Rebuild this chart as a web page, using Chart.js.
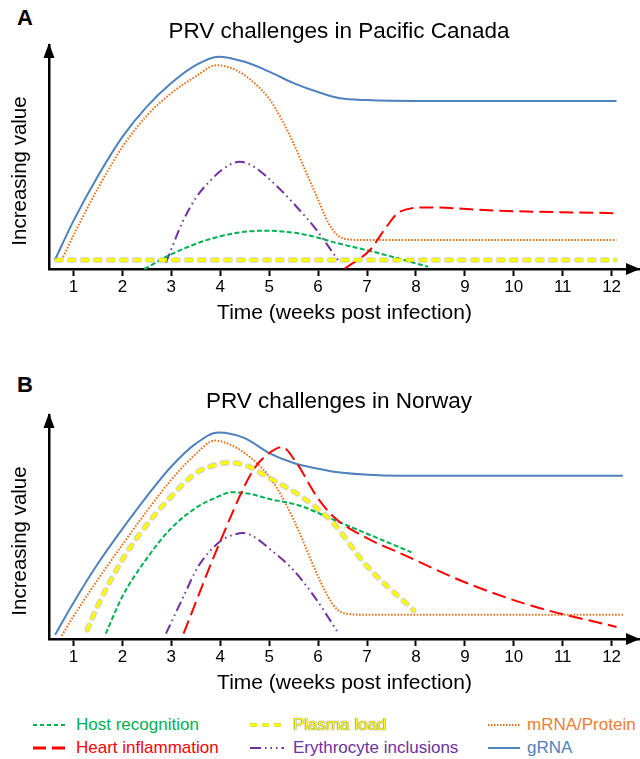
<!DOCTYPE html>
<html>
<head>
<meta charset="utf-8">
<script src="https://cdn.jsdelivr.net/npm/chart.js@4.4.1/dist/chart.umd.min.js"></script>
<style>
html,body{margin:0;padding:0;background:#fff;}
body{width:640px;height:759px;position:relative;overflow:hidden;font-family:"Liberation Sans",Arial,sans-serif;}
.panel{position:absolute;left:0;width:640px;height:340px;}
.plabel{position:absolute;left:17px;font:bold 22px "Liberation Sans",Arial,sans-serif;color:#000;line-height:22px;}
.leg{position:absolute;height:20px;line-height:20px;font-size:17px;white-space:nowrap;}
.leg svg{position:absolute;top:5px;}
</style>
</head>
<body>
<div class="plabel" style="top:7px">A</div>
<div class="panel" style="top:0"><canvas id="cA" width="640" height="340"></canvas></div>
<div class="plabel" style="top:374px">B</div>
<div class="panel" style="top:370px"><canvas id="cB" width="640" height="340"></canvas></div>
<div id="legend"></div>
<script>
// ---------- data ----------
const weekTicks = [1,2,3,4,5,6,7,8,9,10,11,12];
const seriesNames = ['Host recognition','Heart inflammation','Plasma load','Erythrocyte inclusions','mRNA/Protein','gRNA'];
const panelTitles = ['PRV challenges in Pacific Canada','PRV challenges in Norway'];
const xTitle = 'Time (weeks post infection)';
const yTitle = 'Increasing value';

// Panel A: Pacific Canada
const canadaGrnaX = [0.62,1,1.5,2,2.5,3,3.5,3.96,4.5,5,5.5,6,6.45,7,8,10,12.1];
const canadaGrnaY = [4,21.5,41.5,59,72.5,83,91,94.8,92.5,88.1,83,79,76.2,75.4,75,75,75];
const canadaMrnaX = [0.76,1,1.5,2,2.5,3,3.5,3.93,4.25,4.5,4.75,5,5.25,5.5,5.75,6,6.2,6.4,6.6,7,8,12.1];
const canadaMrnaY = [4,15,36,54.5,68.5,78.5,86,91,89.5,86.5,82,76,67,56,43.5,31,21,15,13.3,12.9,12.9,12.9];
const canadaEryX = [2.89,3.25,3.52,3.8,4.03,4.4,4.7,4.95,5.25,5.56,5.97,6.31,6.41];
const canadaEryY = [2.8,21.9,32.3,39.5,44.2,47.9,45.5,41.2,35,27.8,17.4,7,4];
const canadaHostX = [2.45,3.04,3.72,4.3,4.85,5.3,5.77,6.4,7.13,8.25];
const canadaHostY = [0,7,12.9,16,17.1,16.7,15.2,11.5,7.7,1];
const canadaHeartX = [6.55,7.06,7.4,7.67,8.22,9.72,12.13];
const canadaHeartY = [0.3,8.5,18.9,25.6,27.5,26,24.9];
const canadaPlasmaX = [0.62,12.1];
const canadaPlasmaY = [4,4];

// Panel B: Norway
const norwayGrnaX = [0.625,1,1.5,2,2.5,3,3.5,3.96,4.5,5,5.5,6,6.45,7.67,12.23];
const norwayGrnaY = [1.9,16.2,33.7,49.2,63.7,77,87.2,92.2,89.7,83,78.6,76,74.3,72.9,72.9];
const norwayMrnaX = [0.76,1,1.5,2,2.5,3,3.5,3.89,4.25,4.5,4.75,5,5.25,5.5,6,6.2,6.4,6.65,7,12.23];
const norwayMrnaY = [1.5,10.1,26.6,42.1,57.1,71.1,82.6,88.6,86.3,83,78.5,72.6,64,53.3,28,19,13,11.1,10.8,10.8];
const norwayPlasmaX = [1.27,1.5,2,2.5,3,3.5,3.8,4.17,4.6,5,5.63,6,6.31,6.99,7.98];
const norwayPlasmaY = [3.4,15,35.4,51,63.7,74,77,78.8,76.8,71.9,64,58,51.8,32.8,12.3];
const norwayHostX = [1.66,2,2.5,3,3.5,3.9,4.23,4.6,5,5.63,6.31,7.91];
const norwayHostY = [2.4,19,36,49.5,58.5,63,65.5,64.8,62.5,59.5,53.3,38.7];
const norwayHeartX = [3.25,4,4.68,5,5.26,5.56,5.97,6.31,7,7.67,9.04,10.4,12.1];
const norwayHeartY = [2.4,43.6,75.6,83,85.7,78.6,63.7,54.7,45,38.4,25,14.6,5.4];
const norwayEryX = [2.89,3.25,3.55,4,4.2,4.47,4.7,4.95,5.49,5.97,6.39];
const norwayEryY = [2.4,19,32.4,43.6,46,47.3,45.5,41.3,30.9,17.5,3.4];

// ---------- styles ----------
const FAMILY = "'Liberation Sans', Arial, sans-serif";
const seriesStyle = {
  'Host recognition':       {color:'#00b050', width:2,   dash:[5,2.5], order:3},
  'Heart inflammation':     {color:'#ff0000', width:2,   dash:[14,6],  order:2},
  'Plasma load':            {color:'#ffff00', width:3.5, dash:[8,5],   order:1},
  'Erythrocyte inclusions': {color:'#7030a0', width:2,   dash:[10,4,1.5,4,1.5,4], order:4},
  'mRNA/Protein':           {color:'#e9701a', width:2,   dash:[1.6,1.6], order:5},
  'gRNA':                   {color:'#4f81bd', width:2,   dash:[], order:6}
};
const legendTextColor = {
  'Host recognition':'#00b050','Heart inflammation':'#ff0000','Plasma load':'#ffff00',
  'Erythrocyte inclusions':'#7030a0','mRNA/Protein':'#ed7d31','gRNA':'#4f81bd'
};

function pts(xs, ys){ return xs.map((x,i)=>({x:x, y:ys[i]})); }
function ds(name, xs, ys){
  const s = seriesStyle[name];
  return {label:name, data:pts(xs,ys), borderColor:s.color, borderWidth:s.width,
    borderDash:s.dash, pointRadius:0, fill:false, cubicInterpolationMode:'monotone',
    order:s.order, clip:false};
}

const decorPlugin = {
  id:'decor',
  beforeDatasetDraw(chart, args){
    const d = chart.data.datasets[args.index];
    if (d.label === 'Plasma load'){
      chart.ctx.save();
      chart.ctx.shadowColor = 'rgba(90,90,90,0.9)';
      chart.ctx.shadowBlur = 2;
    }
  },
  afterDatasetDraw(chart, args){
    const d = chart.data.datasets[args.index];
    if (d.label === 'Plasma load') chart.ctx.restore();
  },
  afterDraw(chart, args, opts){
    const ctx = chart.ctx, a = chart.chartArea;
    ctx.save();
    ctx.fillStyle = '#000';
    // axis arrow heads
    ctx.beginPath();
    ctx.moveTo(a.right, a.bottom);
    ctx.lineTo(a.right-14, a.bottom-6);
    ctx.lineTo(a.right-14, a.bottom+6);
    ctx.closePath(); ctx.fill();
    ctx.beginPath();
    ctx.moveTo(a.left, a.top-2);
    ctx.lineTo(a.left-5.5, a.top+13);
    ctx.lineTo(a.left+5.5, a.top+13);
    ctx.closePath(); ctx.fill();
    // panel title
    ctx.textAlign = 'center';
    ctx.textBaseline = 'middle';
    ctx.font = "22.5px " + FAMILY;
    ctx.fillText(opts.title, 339, 32);
    // y axis title
    ctx.translate(20, 171);
    ctx.rotate(-Math.PI/2);
    ctx.font = "20.5px " + FAMILY;
    ctx.fillText(yTitle, 0, 0);
    ctx.restore();
  }
};

function makeChart(id, title, datasets){
  return new Chart(document.getElementById(id), {
    type:'line',
    data:{datasets:datasets},
    plugins:[decorPlugin],
    options:{
      responsive:false, animation:false, devicePixelRatio:1,
      layout:{padding:{top:45, left:0, right:0, bottom:0}},
      plugins:{
        legend:{display:false}, tooltip:{enabled:false}, title:{display:false},
        decor:{title:title}
      },
      scales:{
        x:{type:'linear', min:0.5, max:12.58,
          afterBuildTicks:(s)=>{ s.ticks = weekTicks.map(v=>({value:v})); },
          afterFit:(s)=>{ s.height = 71; },
          grid:{display:true, drawOnChartArea:false, drawTicks:true, tickLength:7, tickWidth:2, tickColor:'#000'},
          border:{display:true, color:'#000', width:2.5},
          ticks:{color:'#000', font:{family:FAMILY, size:17}, padding:1, maxRotation:0, autoSkip:false},
          title:{display:true, text:xTitle, color:'#000', font:{family:FAMILY, size:21, lineHeight:1.2}, padding:{top:0, bottom:14}}
        },
        y:{type:'linear', min:0, max:100,
          afterFit:(s)=>{ s.width = 49; },
          grid:{display:false},
          border:{display:true, color:'#000', width:2.5},
          ticks:{display:false},
          title:{display:false}
        }
      }
    }
  });
}

makeChart('cA', panelTitles[0], [
  ds('gRNA', canadaGrnaX, canadaGrnaY),
  ds('mRNA/Protein', canadaMrnaX, canadaMrnaY),
  ds('Erythrocyte inclusions', canadaEryX, canadaEryY),
  ds('Host recognition', canadaHostX, canadaHostY),
  ds('Heart inflammation', canadaHeartX, canadaHeartY),
  ds('Plasma load', canadaPlasmaX, canadaPlasmaY)
]);
makeChart('cB', panelTitles[1], [
  ds('gRNA', norwayGrnaX, norwayGrnaY),
  ds('mRNA/Protein', norwayMrnaX, norwayMrnaY),
  ds('Erythrocyte inclusions', norwayEryX, norwayEryY),
  ds('Host recognition', norwayHostX, norwayHostY),
  ds('Heart inflammation', norwayHeartX, norwayHeartY),
  ds('Plasma load', norwayPlasmaX, norwayPlasmaY)
]);

// ---------- legend ----------
const legendOrder = [['Host recognition','Heart inflammation'],['Plasma load','Erythrocyte inclusions'],['mRNA/Protein','gRNA']];
const colLeft = [33, 250, 488];
const colText = [43, 43, 39];
const rowTop = [715, 738];
const legendDash = {
  'Host recognition':'4,3', 'Heart inflammation':'13,6', 'Plasma load':'7,5',
  'Erythrocyte inclusions':'11,4,1.5,4,1.5,4,1.5,4', 'mRNA/Protein':'1.5,1.5', 'gRNA':'none'
};
const leg = document.getElementById('legend');
legendOrder.forEach((col, ci)=>{
  col.forEach((name, ri)=>{
    const s = seriesStyle[name];
    const el = document.createElement('div');
    el.className = 'leg';
    el.style.left = colLeft[ci] + 'px';
    el.style.top = rowTop[ri] + 'px';
    const w = ci === 2 ? 32 : 34;
    const sw = name === 'Plasma load' ? 3 : (name === 'Heart inflammation' ? 3 : 2);
    const filt = name === 'Plasma load' ? ' style="filter:drop-shadow(0 0 0.6px #777)"' : '';
    el.innerHTML = '<svg width="'+w+'" height="10"'+filt+'><line x1="0" y1="5" x2="'+w+'" y2="5" stroke="'+s.color+
      '" stroke-width="'+sw+'" stroke-dasharray="'+legendDash[name]+'"/></svg>' +
      '<span style="position:absolute;left:'+colText[ci]+'px;color:'+legendTextColor[name]+';'+
      (name==='Plasma load' ? 'text-shadow:0 0 1px #666,0 0 1px #666;' : '') + '">'+name+'</span>';
    leg.appendChild(el);
  });
});
</script>
</body>
</html>
